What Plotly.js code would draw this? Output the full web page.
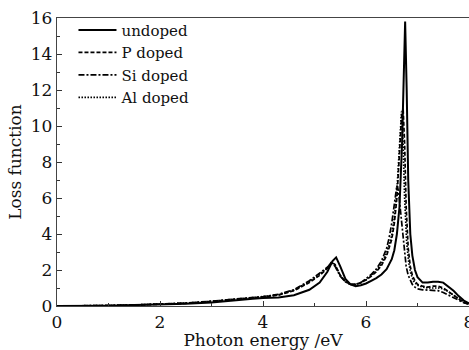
<!DOCTYPE html>
<html>
<head>
<meta charset="utf-8">
<script src="https://cdn.plot.ly/plotly-3.0.1.min.js"></script>
<style>html,body{margin:0;padding:0;background:#fff;overflow:hidden;}#chart{width:476px;height:350px;}</style>
</head>
<body>
<div id="chart"></div>
<script>
const seriesNames = ["undoped", "P doped", "Si doped", "Al doped"];

const xUndoped = [0,0.5,1,1.5,2,2.5,3,3.5,3.8,4,4.3,4.6,4.9,5.1,5.25,5.35,5.42,5.5,5.6,5.7,5.8,5.9,6.0,6.1,6.2,6.3,6.4,6.5,6.55,6.6,6.65,6.7,6.73,6.76,6.79,6.82,6.86,6.9,6.95,7.0,7.1,7.2,7.3,7.4,7.5,7.6,7.7,7.8,7.9,8.0];
const yUndoped = [0,0,0.02,0.05,0.08,0.12,0.2,0.3,0.4,0.45,0.47,0.6,0.9,1.3,1.9,2.5,2.7,2.2,1.5,1.2,1.1,1.15,1.25,1.4,1.55,1.75,2.05,2.6,3.1,4.0,5.5,9.0,13.0,15.8,12.0,7.0,4.0,2.8,2.0,1.6,1.3,1.3,1.35,1.35,1.3,1.1,0.85,0.55,0.3,0.15];

const xP = [0,0.5,1,1.5,2,2.5,3,3.5,3.8,4,4.3,4.6,4.9,5.1,5.25,5.33,5.4,5.5,5.6,5.7,5.8,5.9,6.0,6.1,6.2,6.3,6.4,6.5,6.55,6.6,6.65,6.69,6.72,6.75,6.78,6.82,6.86,6.9,6.95,7.0,7.1,7.2,7.3,7.4,7.5,7.6,7.7,7.8,7.9,8.0];
const yP = [0,0,0.02,0.05,0.1,0.15,0.25,0.35,0.45,0.5,0.6,0.85,1.3,1.7,2.1,2.45,2.3,1.7,1.35,1.2,1.2,1.3,1.45,1.65,1.9,2.25,2.8,3.7,4.6,6.0,8.5,10.5,11.0,9.0,5.5,3.2,2.2,1.7,1.4,1.2,1.1,1.05,1.1,1.1,1.0,0.8,0.55,0.35,0.2,0.1];

const xSi = [0,0.5,1,1.5,2,2.5,3,3.5,3.8,4,4.3,4.6,4.9,5.1,5.25,5.33,5.4,5.5,5.6,5.7,5.8,5.9,6.0,6.1,6.2,6.3,6.4,6.45,6.5,6.55,6.6,6.63,6.66,6.7,6.74,6.78,6.82,6.86,6.9,6.95,7.0,7.1,7.2,7.3,7.4,7.5,7.6,7.7,7.8,7.9,8.0];
const ySi = [0,0,0.03,0.06,0.1,0.16,0.27,0.38,0.48,0.52,0.65,0.9,1.4,1.8,2.15,2.4,2.2,1.65,1.35,1.2,1.2,1.3,1.5,1.75,2.05,2.5,3.2,3.8,4.6,5.8,6.7,6.4,5.5,4.2,3.0,2.2,1.7,1.4,1.2,1.05,0.95,0.9,0.88,0.9,0.85,0.75,0.6,0.45,0.3,0.18,0.1];

const xAl = [0,0.5,1,1.5,2,2.5,3,3.5,3.8,4,4.3,4.6,4.9,5.1,5.25,5.33,5.4,5.5,5.6,5.7,5.8,5.9,6.0,6.1,6.2,6.3,6.4,6.5,6.55,6.6,6.64,6.67,6.69,6.72,6.75,6.79,6.83,6.87,6.92,7.0,7.1,7.2,7.3,7.4,7.5,7.6,7.7,7.8,7.9,8.0];
const yAl = [0,0,0.03,0.06,0.1,0.16,0.26,0.37,0.47,0.52,0.62,0.88,1.35,1.75,2.1,2.4,2.25,1.7,1.35,1.2,1.2,1.3,1.45,1.7,1.95,2.35,2.95,3.9,4.9,6.4,8.5,10.3,10.8,9.0,6.0,3.5,2.4,1.8,1.4,1.15,1.05,1.0,1.0,1.0,0.95,0.8,0.6,0.4,0.22,0.12];

const xs = [xUndoped, xP, xSi, xAl];
const ys = [yUndoped, yP, ySi, yAl];
const dashes = ["solid", "4px,2px", "6px,2px,2px,2px", "1.5px,1.5px"];
const widths = [2, 1.7, 1.7, 1.7];

const traces = seriesNames.map((n, i) => ({
  x: xs[i], y: ys[i], name: n, type: "scatter", mode: "lines",
  line: {color: "#000", dash: dashes[i], width: widths[i]}
}));

const font = {family: "DejaVu Serif, serif", color: "#111"};

const layout = {
  width: 476, height: 350,
  margin: {l: 57, r: 7, t: 18, b: 44},
  paper_bgcolor: "#fff", plot_bgcolor: "#fff",
  font: Object.assign({size: 17}, font),
  showlegend: true,
  legend: {x: 0.04, y: 1.015, xanchor: "left", yanchor: "top",
    font: Object.assign({size: 15}, font), bgcolor: "rgba(255,255,255,0)",
    itemwidth: 38, tracegroupgap: 0},
  xaxis: {
    range: [0, 8], dtick: 2, tick0: 0,
    showgrid: false, zeroline: false,
    showline: true, linecolor: "#444", linewidth: 1.3, mirror: true,
    ticks: "inside", ticklen: 5, tickcolor: "#333",
    minor: {dtick: 1, ticks: "inside", ticklen: 3, tickcolor: "#333"},
    tickfont: Object.assign({size: 17}, font),
    title: {text: "Photon energy /eV", font: Object.assign({size: 17}, font), standoff: 2}
  },
  yaxis: {
    range: [0, 16], dtick: 2, tick0: 0,
    showgrid: false, zeroline: false,
    showline: true, linecolor: "#444", linewidth: 1.3, mirror: true,
    ticks: "inside", ticklen: 5, tickcolor: "#333",
    minor: {dtick: 1, ticks: "inside", ticklen: 3, tickcolor: "#333"},
    tickfont: Object.assign({size: 17}, font),
    title: {text: "Loss function", font: Object.assign({size: 17}, font), standoff: 4}
  }
};

Plotly.newPlot("chart", traces, layout, {staticPlot: true, displayModeBar: false});
</script>
</body>
</html>
